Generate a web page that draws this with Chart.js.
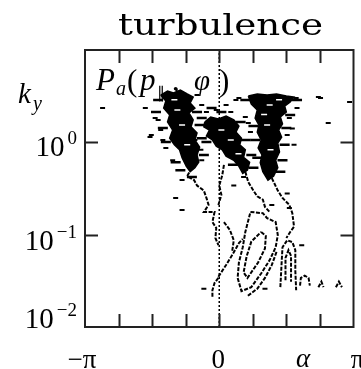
<!DOCTYPE html>
<html>
<head>
<meta charset="utf-8">
<script src="https://cdn.jsdelivr.net/npm/chart.js@4.4.1/dist/chart.umd.min.js"></script>
<style>
  html, body { margin: 0; padding: 0; background: #fff; }
  canvas { display: block; }
</style>
</head>
<body>
<canvas id="contour" width="361" height="369"></canvas>
<script>
// assi: alpha in [-pi, pi], k_y logaritmico
const xTickValues = [-3, -2, -1, 0, 1, 2, 3].map(k => k * Math.PI / 4);
const yTickValues = [1, 0.1];
const xLabelValues = [-Math.PI, 0, Math.PI];
const xLabelTexts = ['−π', '0', 'π'];
const yLabelValues = [1, 0.1, 0.01];
const yLabelExps = ['0', '−1', '−2'];

// zone piene (macchie nere)
const blobLeft = [[-1.37,3.25],[-1.21,3.60],[-1.07,3.42],[-0.91,3.69],[-0.75,3.34],[-0.61,3.10],[-0.68,2.67],[-0.57,2.35],[-0.71,2.08],[-0.61,1.75],[-0.66,1.47],[-0.52,1.26],[-0.57,1.06],[-0.46,0.89],[-0.52,0.73],[-0.48,0.61],[-0.57,0.53],[-0.68,0.48],[-0.77,0.55],[-0.87,0.68],[-0.93,0.83],[-1.05,0.94],[-1.16,1.11],[-1.09,1.36],[-1.21,1.66],[-1.16,1.98],[-1.30,2.35],[-1.25,2.80]];
const blobMid = [[-0.34,1.66],[-0.20,1.88],[-0.02,1.79],[0.16,1.93],[0.34,1.75],[0.46,1.50],[0.39,1.29],[0.52,1.11],[0.48,0.94],[0.61,0.83],[0.57,0.69],[0.71,0.61],[0.66,0.50],[0.55,0.46],[0.46,0.55],[0.34,0.64],[0.16,0.71],[0.07,0.83],[-0.07,0.91],[-0.16,1.06],[-0.30,1.17],[-0.23,1.36],[-0.36,1.47]];
const blobRight = [[0.68,3.18],[0.89,3.34],[1.12,3.25],[1.34,3.34],[1.57,3.18],[1.75,3.10],[1.66,2.73],[1.53,2.47],[1.57,2.13],[1.43,1.88],[1.48,1.58],[1.39,1.36],[1.46,1.14],[1.37,0.98],[1.41,0.79],[1.32,0.64],[1.37,0.53],[1.27,0.43],[1.14,0.39],[1.02,0.48],[0.96,0.60],[1.00,0.73],[0.91,0.87],[0.98,1.06],[0.89,1.29],[0.93,1.54],[0.84,1.83],[0.89,2.24],[0.75,2.60]];

// linee di livello
const contourLines = [
  [[-0.64,0.53],[-0.75,0.43],[-0.59,0.39],[-0.52,0.34],[-0.36,0.30],[-0.30,0.25],[-0.25,0.21],[-0.36,0.176],[-0.11,0.176],[-0.16,0.137],[-0.07,0.118],[-0.09,0.092],[-0.02,0.077]],
  [[0.11,0.57],[0.07,0.44],[0.00,0.34],[0.05,0.27],[-0.02,0.21]],
  [[0.61,0.48],[0.68,0.37],[0.80,0.30],[0.89,0.26],[1.02,0.24],[1.07,0.20],[1.18,0.176]],
  [[0.73,0.176],[1.02,0.171],[1.12,0.151],[1.32,0.137],[1.37,0.099],[1.32,0.073],[1.18,0.053],[0.98,0.038],[0.75,0.027],[0.52,0.0245],[0.43,0.034],[0.46,0.050],[0.55,0.073],[0.61,0.107],[0.73,0.176]],
  [[0.98,0.107],[1.09,0.097],[1.07,0.071],[0.91,0.050],[0.66,0.034],[0.57,0.039],[0.64,0.058],[0.75,0.084],[0.98,0.107]],
  [[1.23,0.41],[1.37,0.30],[1.48,0.25],[1.64,0.21],[1.71,0.171],[1.75,0.122],[1.66,0.107],[1.57,0.092]],
  [[1.43,0.027],[1.46,0.050],[1.48,0.073],[1.59,0.087],[1.71,0.083],[1.78,0.068],[1.78,0.041],[1.80,0.025]],
  [[1.55,0.032],[1.55,0.056],[1.62,0.068],[1.68,0.059],[1.68,0.031]],
  [[-0.02,0.035],[0.16,0.047],[0.32,0.062],[0.46,0.081],[0.55,0.090]],
  [[1.34,0.065],[1.23,0.047],[1.07,0.034],[0.89,0.026],[0.66,0.0216]],
  [[1.89,0.028],[1.91,0.034],[2.00,0.036],[2.09,0.034],[2.12,0.028]],
  [[2.32,0.027],[2.39,0.031],[2.44,0.027]],
  [[2.73,0.027],[2.80,0.031],[2.87,0.027]],
  [[-0.02,0.034],[-0.11,0.030],[-0.16,0.025],[-0.16,0.021]],
  [[0.11,0.137],[0.25,0.112],[0.34,0.087],[0.30,0.065]]
];

// trattini sparsi
const specks = [[-2.73,2.35],[-1.73,2.35],[-1.62,1.14],[-1.50,1.83],[-1.25,0.87],[-0.57,1.06],[-0.30,2.13],[-0.23,1.62],[0.16,2.54],[0.39,2.88],[0.61,1.88],[0.68,1.62],[-1.59,1.20],[-1.37,1.36],[-1.09,0.64],[-0.87,0.39],[-1.02,0.25],[-0.87,0.185],[-0.43,0.83],[0.57,0.42],[1.59,1.20],[1.59,0.28],[1.64,0.194],[1.23,0.21],[2.55,1.62],[2.37,3.02],[3.05,2.73],[1.82,2.35],[1.80,3.02],[0.46,3.02],[2.32,3.10],[1.93,0.077],[-0.36,0.026],[1.07,0.026],[-1.16,2.88],[-0.52,3.25],[-0.41,2.54],[-0.07,2.24],[0.27,2.13],[0.73,1.29],[1.64,1.83],[1.71,1.41],[1.75,0.94],[-1.43,1.75],[-1.32,1.06],[-0.41,0.64],[0.34,0.34]];

// strisce orizzontali ai bordi delle macchie
const streaks = [[-1.43,2.88],[-1.48,2.13],[-0.52,2.13],[-0.46,1.54],[-1.32,1.43],[-0.41,1.11],[-1.25,1.01],[-0.36,0.73],[-1.02,0.61],[-0.64,0.42],[-0.91,0.50],[-0.41,1.83],[0.50,1.66],[0.61,1.06],[0.75,0.73],[-0.30,1.01],[0.32,0.57],[0.80,0.53],[0.05,2.13],[-0.18,2.35],[0.61,2.88],[1.82,2.88],[1.66,1.98],[1.57,1.43],[0.80,1.50],[1.53,0.94],[0.84,1.06],[1.48,0.64],[0.89,0.68],[1.43,0.48]];

// buchi bianchi dentro le macchie
const holes = [[-0.98,2.24],[-0.87,1.54],[-0.75,0.94],[-1.05,2.9],[0.05,1.36],[0.27,1.06],[0.45,0.75],[1.18,2.54],[1.12,1.54],[1.20,0.83],[1.40,2.9],[1.05,2.0]];

const toPts = arr => arr.map(p => ({ x: p[0], y: p[1] }));
const ink = '#000';

const datasets = [];
[blobLeft, blobMid, blobRight].forEach(b => {
  datasets.push({
    data: toPts(b.concat([b[0]])),
    showLine: true, fill: 'shape',
    backgroundColor: ink, borderColor: ink, borderWidth: 1.5,
    pointRadius: 0, tension: 0, order: 2
  });
});
contourLines.forEach(c => {
  datasets.push({
    data: toPts(c),
    showLine: true, fill: false,
    borderColor: ink, borderWidth: 2, borderDash: [4, 1.5],
    pointRadius: 0, tension: 0, order: 2
  });
});
datasets.push({
  data: toPts(specks),
  showLine: false,
  pointStyle: 'line', pointRadius: 2.5,
  borderColor: ink, borderWidth: 2, order: 2
});
datasets.push({
  data: toPts(streaks),
  showLine: false,
  pointStyle: 'line', pointRadius: 5,
  borderColor: ink, borderWidth: 2.5, order: 2
});
// linea tratteggiata a alpha = 0
datasets.push({
  data: [{ x: 0, y: 0.01 }, { x: 0, y: 10 }],
  showLine: true, fill: false,
  borderColor: ink, borderWidth: 1.5, borderDash: [2, 2],
  pointRadius: 0, order: 1
});
datasets.push({
  data: toPts(holes),
  showLine: false,
  pointStyle: 'line', pointRadius: 3,
  borderColor: '#fff', borderWidth: 1.5, order: 0
});

const stretchText = (ctx, text, x, y, width) => {
  const w = ctx.measureText(text).width;
  ctx.save();
  ctx.translate(x, y);
  ctx.scale(width ? width / w : 1, 1);
  ctx.fillText(text, 0, 0);
  ctx.restore();
};

const framePlugin = {
  id: 'frame',
  afterDraw(chart) {
    const { ctx, chartArea: a, scales } = chart;
    const xs = scales.x, ys = scales.y;
    ctx.save();
    ctx.strokeStyle = '#222';
    ctx.lineWidth = 2;
    ctx.strokeRect(a.left, a.top, a.right - a.left, a.bottom - a.top);

    const tl = 13;
    ctx.beginPath();
    xTickValues.forEach(v => {
      const px = Math.round(xs.getPixelForValue(v)) + 0.5;
      ctx.moveTo(px, a.bottom); ctx.lineTo(px, a.bottom - tl);
      ctx.moveTo(px, a.top); ctx.lineTo(px, a.top + tl);
    });
    yTickValues.forEach(v => {
      const py = Math.round(ys.getPixelForValue(v)) + 0.5;
      ctx.moveTo(a.left, py); ctx.lineTo(a.left + tl, py);
      ctx.moveTo(a.right, py); ctx.lineTo(a.right - tl, py);
    });
    ctx.stroke();

    ctx.fillStyle = ink;
    ctx.textBaseline = 'alphabetic';
    ctx.textAlign = 'left';

    // titolo
    ctx.font = '30px "DejaVu Serif"';
    stretchText(ctx, 'turbulence', 118, 35, 205);

    // etichette asse y
    const yNudge = [14, 15, 1];
    yLabelValues.forEach((v, i) => {
      const py = ys.getPixelForValue(v);
      const exp = yLabelExps[i];
      ctx.font = '19px "Liberation Serif"';
      const ew = ctx.measureText(exp).width;
      ctx.font = '29px "Liberation Serif"';
      const bw = ctx.measureText('10').width;
      const right = 77;
      const left = right - ew - bw - 3;
      ctx.fillText('10', left, py + yNudge[i]);
      ctx.font = '19px "Liberation Serif"';
      ctx.fillText(exp, right - ew, py + yNudge[i] - 12);
    });

    // etichette asse x
    ctx.font = '27px "Liberation Serif"';
    const xNudge = [-3, -1, 4];
    xLabelValues.forEach((v, i) => {
      const px = xs.getPixelForValue(v);
      ctx.textAlign = 'center';
      ctx.fillText(xLabelTexts[i], px + xNudge[i], 368);
    });
    ctx.font = 'italic 27px "Liberation Serif"';
    ctx.fillText('α', 303, 367);

    // k_y
    ctx.textAlign = 'left';
    ctx.font = 'italic 29px "Liberation Serif"';
    ctx.fillText('k', 18, 103);
    ctx.font = 'italic 20px "Liberation Serif"';
    ctx.fillText('y', 33, 110);

    // P_a(p_∥, φ)
    ctx.font = 'italic 31px "Liberation Serif"';
    ctx.fillText('P', 96, 90);
    ctx.font = 'italic 20px "Liberation Serif"';
    ctx.fillText('a', 116, 95);
    ctx.font = '31px "Liberation Serif"';
    ctx.fillText('(', 127, 91);
    ctx.font = 'italic 31px "Liberation Serif"';
    ctx.fillText('p', 140, 90);
    ctx.font = '16px "Liberation Serif"';
    ctx.fillText('∥', 157, 98);
    ctx.font = '31px "Liberation Serif"';
    ctx.fillText(',', 172, 90);
    ctx.font = 'italic 29px "Liberation Serif"';
    ctx.fillText('φ', 194, 90);
    ctx.font = '31px "Liberation Serif"';
    ctx.fillText(')', 219, 91);
    ctx.restore();
  }
};

new Chart(document.getElementById('contour').getContext('2d'), {
  type: 'scatter',
  data: { datasets },
  options: {
    responsive: false,
    animation: false,
    layout: { padding: { left: 85, right: 1, top: 50, bottom: 42 } },
    scales: {
      x: { type: 'linear', min: -Math.PI, max: Math.PI, display: false },
      y: { type: 'logarithmic', min: 0.01, max: 10, display: false }
    },
    plugins: {
      legend: { display: false },
      tooltip: { enabled: false }
    }
  },
  plugins: [framePlugin]
});
</script>
</body>
</html>
